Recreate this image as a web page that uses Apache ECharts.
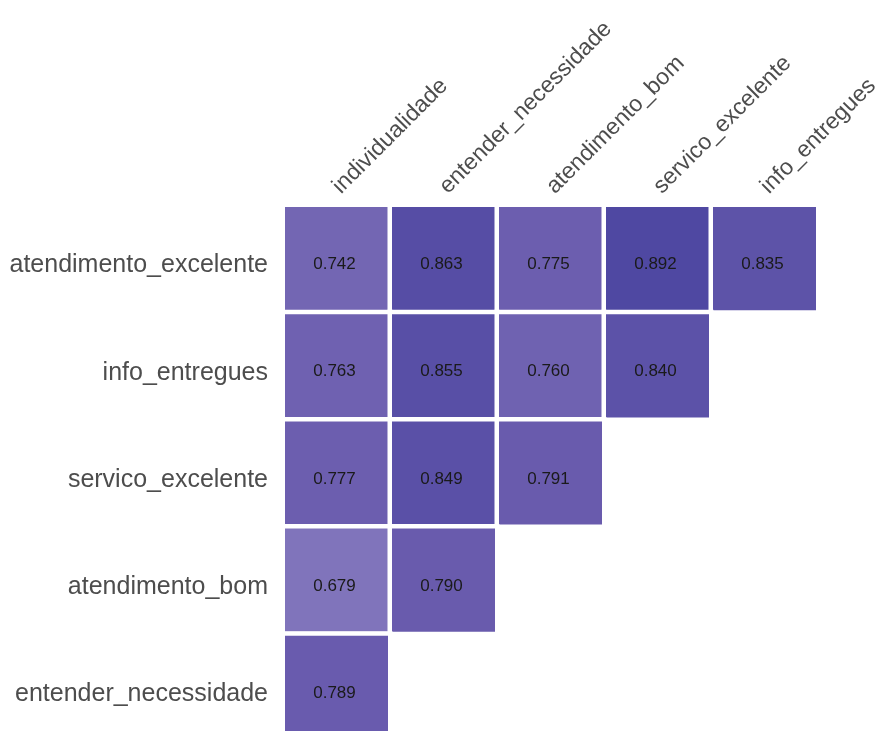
<!DOCTYPE html>
<html>
<head>
<meta charset="utf-8">
<style>
  html, body { margin: 0; padding: 0; background: #ffffff; overflow: hidden; }
  #chart { width: 880px; height: 745px; }
</style>
<script src="https://cdn.jsdelivr.net/npm/echarts@6/dist/echarts.min.js"></script>
</head>
<body>
<div id="chart"></div>
<script>
// Column variables (top axis) and row variables (left axis, top to bottom)
const colVars = ['individualidade', 'entender_necessidade', 'atendimento_bom', 'servico_excelente', 'info_entregues'];
const rowVars = ['atendimento_excelente', 'info_entregues', 'servico_excelente', 'atendimento_bom', 'entender_necessidade'];

// Correlations per row (null = upper triangle, not drawn)
const rowAtendimentoExcelente = [0.742, 0.863, 0.775, 0.892, 0.835];
const rowInfoEntregues        = [0.763, 0.855, 0.760, 0.840, null];
const rowServicoExcelente     = [0.777, 0.849, 0.791, null, null];
const rowAtendimentoBom       = [0.679, 0.790, null, null, null];
const rowEntenderNecessidade  = [0.789, null, null, null, null];

const rows = [rowAtendimentoExcelente, rowInfoEntregues, rowServicoExcelente, rowAtendimentoBom, rowEntenderNecessidade];

const cells = [];
rows.forEach((vals, r) => {
  vals.forEach((v, c) => {
    if (v !== null) cells.push([c, r, v]);
  });
});

const chart = echarts.init(document.getElementById('chart'), null, { renderer: 'canvas' });
chart.setOption({
  backgroundColor: '#ffffff',
  animation: false,
  grid: { left: 283, top: 205, width: 535, height: 536, outerBoundsMode: 'none', containLabel: false },
  xAxis: {
    type: 'category',
    position: 'top',
    data: colVars,
    axisLine: { show: false },
    axisTick: { show: false },
    splitLine: { show: false },
    axisLabel: {
      rotate: -45,
      margin: 15,
      fontSize: 23,
      fontFamily: 'Liberation Sans, Arial, sans-serif',
      color: '#4d4d4d',
      interval: 0,
      hideOverlap: false
    }
  },
  yAxis: {
    type: 'category',
    inverse: true,
    data: rowVars,
    axisLine: { show: false },
    axisTick: { show: false },
    splitLine: { show: false },
    axisLabel: {
      margin: 15,
      interval: 0,
      formatter: v => '{t|' + v + '}',
      rich: {
        t: {
          fontSize: 25,
          padding: [14, 0, 0, 0],
          fontFamily: 'Liberation Sans, Arial, sans-serif',
          color: '#4d4d4d'
        }
      }
    }
  },
  visualMap: {
    show: false,
    type: 'continuous',
    min: 0.679,
    max: 0.892,
    dimension: 2,
    inRange: { color: ['#8074bb', '#6a5cae', '#4f48a2'] }
  },
  series: [{
    type: 'heatmap',
    data: cells,
    itemStyle: { borderColor: '#ffffff', borderWidth: 4.5 },
    label: {
      show: true,
      fontSize: 17,
      offset: [-2, 6],
      fontFamily: 'Liberation Sans, Arial, sans-serif',
      color: '#1a1a1a',
      formatter: p => p.value[2].toFixed(3)
    },
    emphasis: { disabled: true }
  }]
});
</script>
</body>
</html>
